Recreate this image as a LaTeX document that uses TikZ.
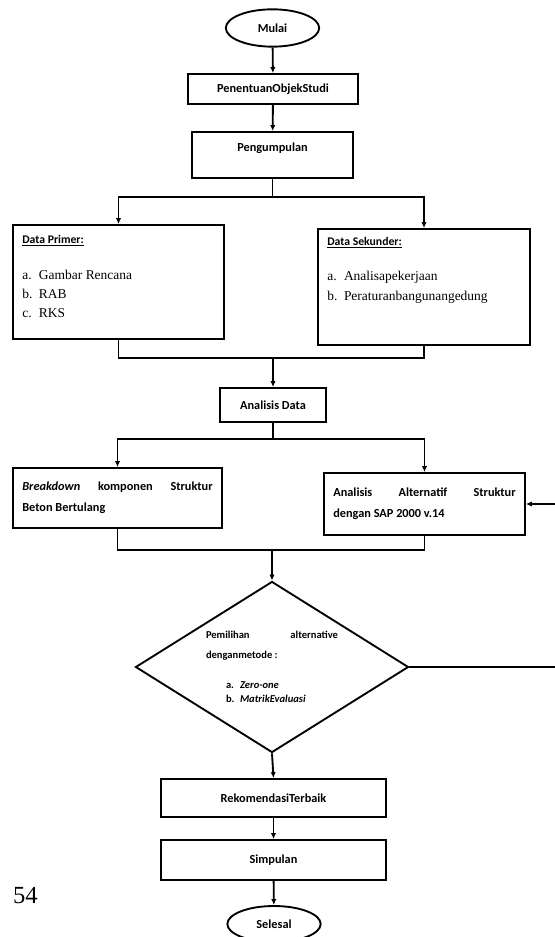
\documentclass[tikz,border=0pt]{standalone}
\usepackage{fontspec}
\setmainfont{Liberation Serif}
\setsansfont{Carlito}
\usetikzlibrary{shapes.geometric, arrows.meta, positioning}

\newcommand{\butir}[2]{\makebox[0.5cm][l]{#1}#2}
\newcommand{\judul}[1]{{\sffamily\bfseries\fontsize{10}{12}\selectfont\underline{#1}}}

\begin{document}
\begin{tikzpicture}[
    x=0.03cm, y=-0.03cm,
    box/.style={draw, line width=1.6pt, fill=white, align=center, inner sep=0pt, font=\sffamily\bfseries\fontsize{10.5}{13}\selectfont},
    terminal/.style={box, ellipse, minimum width=2.8cm, minimum height=1.12cm},
    textbox/.style={box, align=justify, inner xsep=0.28cm, font=\sffamily\bfseries\fontsize{10.5}{18}\selectfont},
    databox/.style={draw, line width=1.6pt, fill=white, inner xsep=0.28cm, inner ysep=0.3cm},
    decision/.style={box, diamond, aspect=1.6, minimum width=8.19cm, minimum height=5.13cm},
    arrow/.style={-{Latex[length=5pt,width=4.5pt]}, line width=1.6pt},
    line/.style={line width=1.6pt}
]
    \useasboundingbox (0,0) rectangle (554,937);

    % main column
    \node[terminal] (mulai) at (272.5,28) {Mulai};
    \node[box, minimum width=5.1cm, minimum height=0.9cm] (objek) at (273,89) {PenentuanObjekStudi};
    \node[box, minimum width=4.83cm, minimum height=1.38cm] (kumpul) at (272.5,155) {Pengumpulan\\ \mbox{}};

    % data boxes
    \node[databox] (primer) at (118.5,282) {\parbox[c][2.82cm][t]{5.77cm}{\fontsize{11.5}{16.6}\selectfont
        \judul{Data Primer:}\par\vspace{14pt}
        \butir{a.}{Gambar Rencana}\par
        \butir{b.}{RAB}\par
        \butir{c.}{RKS}}};
    \node[databox, inner ysep=0.25cm] (sekunder) at (424,287) {\parbox[c][2.98cm][t]{5.8cm}{\fontsize{11.5}{17.5}\selectfont
        \judul{Data Sekunder:}\par\vspace{12pt}
        \butir{a.}{Analisapekerjaan}\par
        \butir{b.}{Peraturanbangunangedung}}};

    \node[box, minimum width=3.18cm, minimum height=1.02cm] (analisis) at (273,405) {Analisis Data};

    \node[textbox, text width=5.71cm, minimum height=1.8cm] (breakdown) at (117.5,498)
        {\textit{Breakdown} komponen Struktur\linebreak Beton Bertulang};
    \node[textbox, text width=5.47cm, minimum height=1.86cm] (alternatif) at (424.5,504)
        {Analisis Alternatif Struktur\linebreak dengan SAP 2000 v.14};

    \node[decision] (pilih) at (272,667) {\parbox{3.96cm}{\fontsize{9}{17}\selectfont
        Pemilihan alternative\linebreak denganmetode :\par\vspace{14pt}
        \fontsize{9}{12}\selectfont
        \hspace*{0.6cm}\makebox[0.42cm][l]{a.}\textit{Zero-one}\par
        \hspace*{0.6cm}\makebox[0.42cm][l]{b.}\textit{MatrikEvaluasi}}};

    \node[box, minimum width=6.75cm, minimum height=1.14cm] (rekom) at (273.5,798) {RekomendasiTerbaik};
    \node[box, minimum width=6.75cm, minimum height=1.2cm] (simpul) at (273.5,860) {Simpulan};
    \node[terminal, minimum height=1.08cm] (selesai) at (274,924) {Selesal};

    \node[font=\fontsize{21}{24}\selectfont] (hal) at (25.5,896) {54};

    % junctions
    \coordinate (cabang1) at (272.5,197);
    \coordinate (gabung1) at (273,358);
    \coordinate (cabang2) at (273,439);
    \coordinate (gabung2) at (272,550);
    \coordinate (balik) at (562,0);

    % connectors
    \draw[arrow] (mulai) -- (objek);
    \draw[arrow] (objek) -- (kumpul);
    \draw[line] (kumpul.south) -- (cabang1);
    \draw[arrow] (cabang1) -| (primer.north);
    \draw[arrow] (cabang1) -| (sekunder.north);
    \draw[line] (primer.south) |- (gabung1) -| (sekunder.south);
    \draw[arrow] (gabung1) -- (analisis.north);
    \draw[line] (analisis.south) -- (cabang2);
    \draw[arrow] (cabang2) -| (breakdown.north);
    \draw[arrow] (cabang2) -| (alternatif.north);
    \draw[line] (breakdown.south) |- (gabung2) -| (alternatif.south);
    \draw[arrow] (gabung2) -- (pilih.north);
    \draw[arrow] (pilih.south) -- (rekom.north);
    \draw[arrow] (rekom) -- (simpul);
    \draw[arrow] (simpul) -- (selesai);
    \draw[arrow] (pilih.east) -- (pilih.east -| balik) |- (alternatif.east);
\end{tikzpicture}
\end{document}
